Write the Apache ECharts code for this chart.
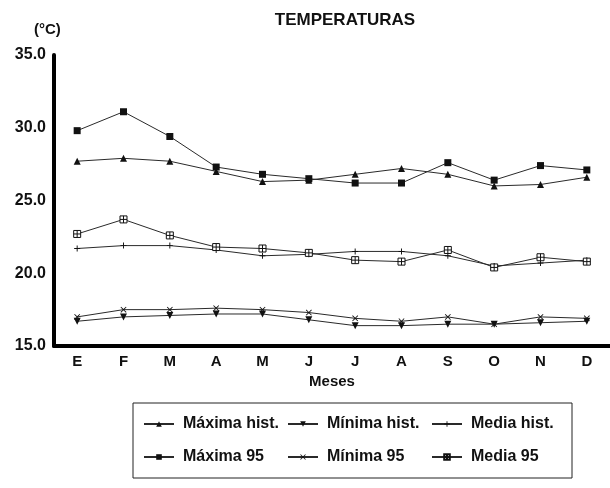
<!DOCTYPE html>
<html>
<head>
<meta charset="utf-8">
<script src="https://cdn.jsdelivr.net/npm/echarts@6/dist/echarts.min.js"></script>
<style>html,body{margin:0;padding:0;background:#fff}#c{width:610px;height:488px}</style>
</head>
<body>
<div id="c"></div>
<script>
const months = ['E','F','M','A','M','J','J','A','S','O','N','D'];
const yTicks = [15, 20, 25, 30, 35];
const maximaHist = [27.7,27.9,27.7,27.0,26.3,26.4,26.8,27.2,26.8,26.0,26.1,26.6];
const minimaHist = [16.7,17.0,17.1,17.2,17.2,16.8,16.4,16.4,16.5,16.5,16.6,16.7];
const mediaHist  = [21.7,21.9,21.9,21.6,21.2,21.3,21.5,21.5,21.2,20.5,20.7,20.9];
const maxima95   = [29.8,31.1,29.4,27.3,26.8,26.5,26.2,26.2,27.6,26.4,27.4,27.1];
const minima95   = [17.0,17.5,17.5,17.6,17.5,17.3,16.9,16.7,17.0,16.5,17.0,16.9];
const media95    = [22.7,23.7,22.6,21.8,21.7,21.4,20.9,20.8,21.6,20.4,21.1,20.8];
const names = ['Máxima hist.','Mínima hist.','Media hist.','Máxima 95','Mínima 95','Media 95'];

const FONT = '"Liberation Sans", Arial, sans-serif';
const symTri = 'path://M5,0 L10,9 L0,9 Z';
const symInvTri = 'path://M0,0 L10,0 L5,9 Z';
const symPlus = 'path://M4.2,0 H5.8 V4.2 H10 V5.8 H5.8 V10 H4.2 V5.8 H0 V4.2 H4.2 Z';
const symX = 'path://M0,1 L1,0 L5,4 L9,0 L10,1 L6,5 L10,9 L9,10 L5,6 L1,10 L0,9 L4,5 Z';
const symBoxCross = 'path://M0,0 H10 V10 H0 Z M5,0 V10 M0,5 H10';

function mk(name, data, symbol, size, style) {
  return {
    name, type: 'line', data, symbol, symbolSize: size,
    lineStyle: { color: '#2a2a2a', width: 1 },
    itemStyle: Object.assign({ color: '#111' }, style || {}),
    emphasis: { disabled: true }, animation: false
  };
}

const legendPos = [
  [143, 416], [287, 416], [431, 416],
  [143, 449], [287, 449], [431, 449]
];

const chart = echarts.init(document.getElementById('c'));
chart.setOption({
  animation: false,
  backgroundColor: '#fff',
  title: [
    { text: 'TEMPERATURAS', left: 340, top: 7, textAlign: 'center',
      textStyle: { fontFamily: FONT, fontSize: 17, fontWeight: 'bold', color: '#111' } },
    { text: '(°C)', left: 29, top: 17,
      textStyle: { fontFamily: FONT, fontSize: 15, fontWeight: 'bold', color: '#111' } }
  ],
  legend: names.map((n, i) => ({
    data: [n], left: legendPos[i][0], top: legendPos[i][1],
    itemWidth: 30, itemHeight: 7, itemGap: 0, selectedMode: false, padding: 0,
    textStyle: { fontFamily: FONT, fontSize: 16, fontWeight: 'bold', color: '#111', padding: [0, 0, 0, 4] }
  })),
  graphic: [{
    type: 'rect', shape: { x: 133, y: 403, width: 439, height: 75 },
    style: { fill: 'none', stroke: '#222', lineWidth: 1 }
  }],
  grid: { left: 54, right: 0, top: 55, bottom: 142, containLabel: false },
  xAxis: {
    type: 'category', data: months, boundaryGap: true,
    name: 'Meses', nameLocation: 'middle', nameGap: 26,
    nameTextStyle: { fontFamily: FONT, fontSize: 15, fontWeight: 'bold', color: '#111' },
    axisLine: { lineStyle: { color: '#000', width: 4 } },
    axisTick: { show: false },
    axisLabel: { fontFamily: FONT, fontSize: 15, fontWeight: 'bold', color: '#111', margin: 8 },
    splitLine: { show: false }
  },
  yAxis: {
    type: 'value', min: yTicks[0], max: yTicks[yTicks.length - 1], interval: 5,
    axisLine: { show: true, lineStyle: { color: '#000', width: 4 } },
    axisTick: { show: false },
    axisLabel: { fontFamily: FONT, fontSize: 16, fontWeight: 'bold', color: '#111', margin: 8,
      formatter: v => v.toFixed(1) },
    splitLine: { show: false }
  },
  series: [
    mk(names[0], maximaHist, symTri, 7),
    mk(names[1], minimaHist, symInvTri, 7),
    mk(names[2], mediaHist, symPlus, 6),
    mk(names[3], maxima95, 'rect', 7),
    mk(names[4], minima95, symX, 6),
    mk(names[5], media95, symBoxCross, 7, { color: '#fff', borderColor: '#111', borderWidth: 1 })
  ]
});
</script>
</body>
</html>
